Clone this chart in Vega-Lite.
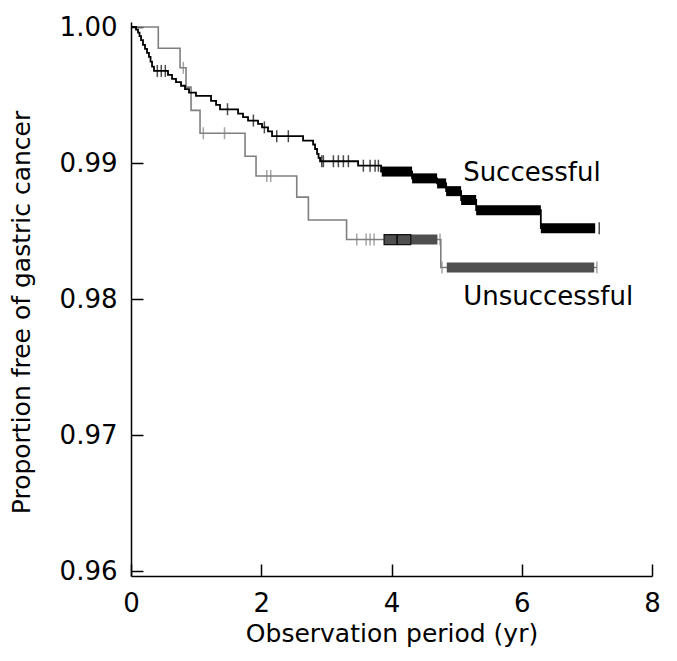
{
  "$schema": "https://vega.github.io/schema/vega-lite/v6.json",
  "width": 521,
  "height": 554,
  "autosize": {"type": "none"},
  "padding": {"left": 131, "top": 22, "right": 25, "bottom": 85},
  "background": "white",
  "config": {
    "view": {"stroke": null},
    "font": "DejaVu Sans",
    "axis": {
      "domainColor": "#000000",
      "domainWidth": 1.5,
      "tickColor": "#000000",
      "tickWidth": 1.5,
      "tickSize": -12,
      "grid": false,
      "labelFont": "DejaVu Sans",
      "labelFontSize": 26,
      "labelColor": "#000000",
      "titleFont": "DejaVu Sans",
      "titleFontSize": 25,
      "titleFontWeight": "normal",
      "titleColor": "#000000"
    }
  },
  "datasets": {
    "surv": [
      {"series": "Successful", "t": 0, "s": 1.0},
      {"series": "Successful", "t": 0.077, "s": 0.9998},
      {"series": "Successful", "t": 0.108, "s": 0.99958},
      {"series": "Successful", "t": 0.131, "s": 0.99933},
      {"series": "Successful", "t": 0.154, "s": 0.99904},
      {"series": "Successful", "t": 0.184, "s": 0.99868},
      {"series": "Successful", "t": 0.215, "s": 0.99839},
      {"series": "Successful", "t": 0.246, "s": 0.9981},
      {"series": "Successful", "t": 0.276, "s": 0.99781},
      {"series": "Successful", "t": 0.3, "s": 0.99745},
      {"series": "Successful", "t": 0.323, "s": 0.99709},
      {"series": "Successful", "t": 0.353, "s": 0.99677},
      {"series": "Successful", "t": 0.568, "s": 0.99648},
      {"series": "Successful", "t": 0.63, "s": 0.99619},
      {"series": "Successful", "t": 0.691, "s": 0.99594},
      {"series": "Successful", "t": 0.768, "s": 0.99568},
      {"series": "Successful", "t": 0.829, "s": 0.99543},
      {"series": "Successful", "t": 0.891, "s": 0.99518},
      {"series": "Successful", "t": 0.998, "s": 0.99493},
      {"series": "Successful", "t": 1.229, "s": 0.99457},
      {"series": "Successful", "t": 1.306, "s": 0.99428},
      {"series": "Successful", "t": 1.367, "s": 0.99395},
      {"series": "Successful", "t": 1.644, "s": 0.99363},
      {"series": "Successful", "t": 1.72, "s": 0.99338},
      {"series": "Successful", "t": 1.797, "s": 0.99312},
      {"series": "Successful", "t": 1.951, "s": 0.99287},
      {"series": "Successful", "t": 2.012, "s": 0.99262},
      {"series": "Successful", "t": 2.104, "s": 0.99233},
      {"series": "Successful", "t": 2.166, "s": 0.99197},
      {"series": "Successful", "t": 2.642, "s": 0.99164},
      {"series": "Successful", "t": 2.796, "s": 0.99136},
      {"series": "Successful", "t": 2.826, "s": 0.99103},
      {"series": "Successful", "t": 2.857, "s": 0.99067},
      {"series": "Successful", "t": 2.88, "s": 0.99038},
      {"series": "Successful", "t": 2.903, "s": 0.99013},
      {"series": "Successful", "t": 3.487, "s": 0.9898},
      {"series": "Successful", "t": 3.84, "s": 0.98937},
      {"series": "Successful", "t": 4.316, "s": 0.98887},
      {"series": "Successful", "t": 4.7, "s": 0.9885},
      {"series": "Successful", "t": 4.839, "s": 0.98793},
      {"series": "Successful", "t": 5.069, "s": 0.98728},
      {"series": "Successful", "t": 5.3, "s": 0.98653},
      {"series": "Successful", "t": 6.293, "s": 0.98521},
      {"series": "Successful", "t": 7.127, "s": 0.98521},
      {"series": "Unsuccessful", "t": 0, "s": 1.0},
      {"series": "Unsuccessful", "t": 0.419, "s": 0.99844},
      {"series": "Unsuccessful", "t": 0.753, "s": 0.997},
      {"series": "Unsuccessful", "t": 0.845, "s": 0.99558},
      {"series": "Unsuccessful", "t": 0.922, "s": 0.99387},
      {"series": "Unsuccessful", "t": 1.06, "s": 0.99219},
      {"series": "Unsuccessful", "t": 1.751, "s": 0.9905},
      {"series": "Unsuccessful", "t": 1.92, "s": 0.98904},
      {"series": "Unsuccessful", "t": 2.545, "s": 0.98749},
      {"series": "Unsuccessful", "t": 2.724, "s": 0.98581},
      {"series": "Unsuccessful", "t": 3.31, "s": 0.98437},
      {"series": "Unsuccessful", "t": 4.757, "s": 0.98232},
      {"series": "Unsuccessful", "t": 7.158, "s": 0.98232}
    ],
    "censor": [
      {"series": "Successful", "t": 0.404, "s": 0.99677},
      {"series": "Successful", "t": 0.465, "s": 0.99677},
      {"series": "Successful", "t": 0.527, "s": 0.99677},
      {"series": "Successful", "t": 1.482, "s": 0.99395},
      {"series": "Successful", "t": 1.879, "s": 0.99312},
      {"series": "Successful", "t": 2.048, "s": 0.99262},
      {"series": "Successful", "t": 2.238, "s": 0.99197},
      {"series": "Successful", "t": 2.416, "s": 0.99197},
      {"series": "Successful", "t": 2.929, "s": 0.99013},
      {"series": "Successful", "t": 2.954, "s": 0.99013},
      {"series": "Successful", "t": 3.108, "s": 0.99013},
      {"series": "Successful", "t": 3.184, "s": 0.99013},
      {"series": "Successful", "t": 3.261, "s": 0.99013},
      {"series": "Successful", "t": 3.338, "s": 0.99013},
      {"series": "Successful", "t": 3.568, "s": 0.9898},
      {"series": "Successful", "t": 3.671, "s": 0.9898},
      {"series": "Successful", "t": 3.748, "s": 0.9898},
      {"series": "Successful", "t": 3.799, "s": 0.9898},
      {"series": "Successful", "t": 7.19, "s": 0.98521},
      {"series": "Unsuccessful", "t": 0.803, "s": 0.997},
      {"series": "Unsuccessful", "t": 1.111, "s": 0.99219},
      {"series": "Unsuccessful", "t": 1.436, "s": 0.99219},
      {"series": "Unsuccessful", "t": 2.085, "s": 0.98904},
      {"series": "Unsuccessful", "t": 2.146, "s": 0.98904},
      {"series": "Unsuccessful", "t": 3.467, "s": 0.98437},
      {"series": "Unsuccessful", "t": 3.61, "s": 0.98437},
      {"series": "Unsuccessful", "t": 3.671, "s": 0.98437},
      {"series": "Unsuccessful", "t": 3.733, "s": 0.98437},
      {"series": "Unsuccessful", "t": 4.745, "s": 0.98437},
      {"series": "Unsuccessful", "t": 4.775, "s": 0.98232},
      {"series": "Unsuccessful", "t": 7.153, "s": 0.98232}
    ],
    "band": [
      {"series": "Successful", "t": 3.85, "t2": 4.316, "s": 0.98937},
      {"series": "Successful", "t": 4.316, "t2": 4.7, "s": 0.98887},
      {"series": "Successful", "t": 4.7, "t2": 4.839, "s": 0.9885},
      {"series": "Successful", "t": 4.839, "t2": 5.069, "s": 0.98793},
      {"series": "Successful", "t": 5.069, "t2": 5.3, "s": 0.98728},
      {"series": "Successful", "t": 5.3, "t2": 6.293, "s": 0.98653},
      {"series": "Successful", "t": 6.293, "t2": 7.127, "s": 0.98521},
      {"series": "Unsuccessful", "t": 3.886, "t2": 4.705, "s": 0.98437},
      {"series": "Unsuccessful", "t": 4.849, "t2": 7.112, "s": 0.98232}
    ],
    "boxes": [
      {"t": 3.886, "t2": 4.083, "s": 0.98437},
      {"t": 4.09, "t2": 4.296, "s": 0.98437}
    ],
    "labels": [
      {"label": "Successful", "t": 5.1, "s": 0.9893},
      {"label": "Unsuccessful", "t": 5.1, "s": 0.98013}
    ]
  },
  "encoding": {
    "x": {
      "field": "t", "type": "quantitative",
      "scale": {"domain": [0, 8], "nice": false},
      "axis": {"values": [0, 2, 4, 6, 8], "title": "Observation period (yr)", "labelPadding": 26, "titlePadding": 5, "labelFlush": false}
    },
    "y": {
      "field": "s", "type": "quantitative",
      "scale": {"domain": [0.96, 1.0], "nice": false, "zero": false},
      "axis": {"values": [0.96, 0.97, 0.98, 0.99, 1.0], "format": ".2f", "title": "Proportion free of gastric cancer", "labelPadding": 26, "titlePadding": 25, "titleY": 290, "labelFlush": false}
    }
  },
  "layer": [
    {
      "data": {"name": "surv"},
      "transform": [{"filter": "datum.series == 'Unsuccessful'"}],
      "mark": {"type": "line", "interpolate": "step-after", "color": "#7f7f7f", "strokeWidth": 1.6}
    },
    {
      "data": {"name": "censor"},
      "transform": [{"filter": "datum.series == 'Unsuccessful'"}],
      "mark": {"type": "tick", "orient": "vertical", "size": 12, "thickness": 1.5, "color": "#7f7f7f"}
    },
    {
      "data": {"name": "band"},
      "transform": [{"filter": "datum.series == 'Unsuccessful'"}],
      "mark": {"type": "bar", "size": 10, "color": "#4f4f4f"},
      "encoding": {"x2": {"field": "t2"}}
    },
    {
      "data": {"name": "boxes"},
      "mark": {"type": "bar", "size": 10, "fill": "#4f4f4f", "stroke": "#111111", "strokeWidth": 1.2},
      "encoding": {"x2": {"field": "t2"}}
    },
    {
      "data": {"name": "surv"},
      "transform": [{"filter": "datum.series == 'Successful'"}],
      "mark": {"type": "line", "interpolate": "step-after", "color": "#000000", "strokeWidth": 1.8}
    },
    {
      "data": {"name": "censor"},
      "transform": [{"filter": "datum.series == 'Successful'"}],
      "mark": {"type": "tick", "orient": "vertical", "size": 12, "thickness": 1.5, "color": "#000000"}
    },
    {
      "data": {"name": "band"},
      "transform": [{"filter": "datum.series == 'Successful'"}],
      "mark": {"type": "bar", "size": 10, "color": "#000000"},
      "encoding": {"x2": {"field": "t2"}}
    },
    {
      "data": {"name": "labels"},
      "mark": {"type": "text", "align": "left", "baseline": "middle", "font": "DejaVu Sans", "fontSize": 26, "color": "#000000"},
      "encoding": {"text": {"field": "label"}}
    }
  ]
}
